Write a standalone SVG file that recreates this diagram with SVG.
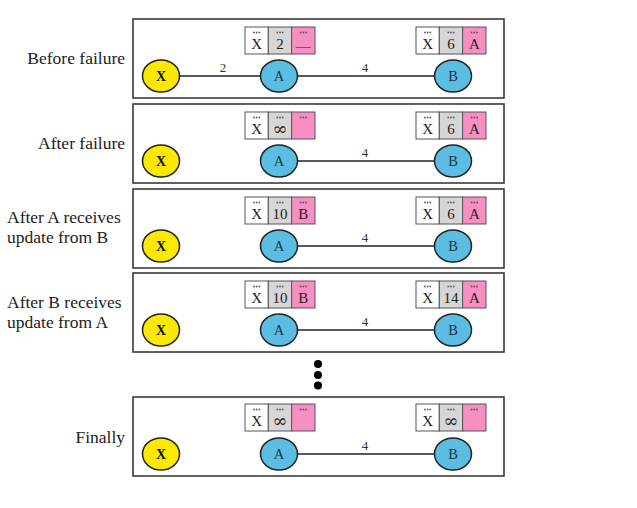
<svg xmlns="http://www.w3.org/2000/svg" xmlns:xlink="http://www.w3.org/1999/xlink" width="637" height="508" viewBox="0 0 637 508">
<style>
.panel{fill:#fff;stroke:#3a3a3a;stroke-width:1.6}
.lbl{font-family:"Liberation Serif","Times New Roman",serif;font-size:17.5px;fill:#222}
.edge{stroke:#222;stroke-width:1.6;fill:none}
.elbl{font-family:"Liberation Serif","Times New Roman",serif;font-size:13px;fill:#333;text-anchor:middle}
.nx{fill:#fde800;stroke:#222;stroke-width:1.5}
.nab{fill:#5bbde2;stroke:#222;stroke-width:1.5}
.ntxt{font-family:"Liberation Serif","Times New Roman",serif;font-size:14.5px;fill:#1c2f45;text-anchor:middle}
.ntxtb{font-family:"Liberation Serif","Times New Roman",serif;font-size:14px;font-weight:bold;fill:#111;text-anchor:middle}
.c1{fill:#fff;stroke:#555;stroke-width:1}
.c2{fill:#d6d6d6;stroke:#555;stroke-width:1}
.c3{fill:#f78fc2;stroke:#555;stroke-width:1}
.ct{font-family:"Liberation Serif","Times New Roman",serif;font-size:15px;fill:#222;text-anchor:middle}
.inf{font-family:"DejaVu Serif",serif;font-size:18px;fill:#222;text-anchor:middle}
.dot{fill:#555}
</style>
<defs>
<g id="dots"><rect x="-3.5" y="-0.8" width="1.6" height="1.6" class="dot"/><rect x="-0.8" y="-0.8" width="1.6" height="1.6" class="dot"/><rect x="1.9" y="-0.8" width="1.6" height="1.6" class="dot"/></g>
<g id="tbl">
<rect x="0" y="0" width="23.3" height="27" class="c1"/>
<rect x="23.3" y="0" width="23.3" height="27" class="c2"/>
<rect x="46.6" y="0" width="23.4" height="27" class="c3"/>
<use xlink:href="#dots" x="11.6" y="5.5"/>
<use xlink:href="#dots" x="35" y="5.5"/>
<use xlink:href="#dots" x="58.3" y="5.5"/>
</g>
</defs>

<!-- Panel frames and labels -->
<g id="panels">
<rect class="panel" x="133" y="19" width="371" height="79"/>
<rect class="panel" x="133" y="104" width="371" height="79"/>
<rect class="panel" x="133" y="189" width="371" height="79"/>
<rect class="panel" x="133" y="273" width="371" height="79"/>
<rect class="panel" x="133" y="397" width="371" height="79"/>
</g>
<g id="labels">
<text class="lbl" x="125" y="64" text-anchor="end">Before failure</text>
<text class="lbl" x="125" y="149" text-anchor="end">After failure</text>
<text class="lbl" x="7" y="223">After A receives</text>
<text class="lbl" x="7" y="243">update from B</text>
<text class="lbl" x="7" y="308">After B receives</text>
<text class="lbl" x="7" y="328">update from A</text>
<text class="lbl" x="125" y="443" text-anchor="end">Finally</text>
</g>

<!-- Connectors -->
<g id="connectors">
<line class="edge" x1="179.5" y1="76" x2="260.5" y2="76"/>
<line class="edge" x1="297.5" y1="76" x2="434.5" y2="76"/>
<line class="edge" x1="297.5" y1="161" x2="434.5" y2="161"/>
<line class="edge" x1="297.5" y1="246" x2="434.5" y2="246"/>
<line class="edge" x1="297.5" y1="330" x2="434.5" y2="330"/>
<line class="edge" x1="297.5" y1="454" x2="434.5" y2="454"/>
<text class="elbl" x="223" y="72">2</text>
<text class="elbl" x="365" y="72">4</text>
<text class="elbl" x="365" y="157">4</text>
<text class="elbl" x="365" y="242">4</text>
<text class="elbl" x="365" y="326">4</text>
<text class="elbl" x="365" y="450">4</text>
</g>

<!-- Panel 1 -->
<g id="p1-x"><ellipse class="nx" cx="161" cy="76" rx="18.5" ry="16"/><text class="ntxtb" x="161" y="81">X</text></g>
<g id="p1-a"><ellipse class="nab" cx="279" cy="76" rx="18.5" ry="16"/><text class="ntxt" x="279" y="81">A</text></g>
<g id="p1-b"><ellipse class="nab" cx="453" cy="76" rx="18.5" ry="16"/><text class="ntxt" x="453" y="81">B</text></g>
<g id="p1-ta"><use xlink:href="#tbl" x="245" y="27"/><text class="ct" x="256.6" y="49">X</text><text class="ct" x="280" y="49">2</text><text class="ct" x="303.3" y="51">—</text></g>
<g id="p1-tb"><use xlink:href="#tbl" x="416" y="27"/><text class="ct" x="427.6" y="49">X</text><text class="ct" x="451" y="49">6</text><text class="ct" x="474.3" y="49">A</text></g>

<!-- Panel 2 -->
<g id="p2-x"><ellipse class="nx" cx="161" cy="161" rx="18.5" ry="16"/><text class="ntxtb" x="161" y="166">X</text></g>
<g id="p2-a"><ellipse class="nab" cx="279" cy="161" rx="18.5" ry="16"/><text class="ntxt" x="279" y="166">A</text></g>
<g id="p2-b"><ellipse class="nab" cx="453" cy="161" rx="18.5" ry="16"/><text class="ntxt" x="453" y="166">B</text></g>
<g id="p2-ta"><use xlink:href="#tbl" x="245" y="112"/><text class="ct" x="256.6" y="134">X</text><text class="inf" x="280" y="135">∞</text></g>
<g id="p2-tb"><use xlink:href="#tbl" x="416" y="112"/><text class="ct" x="427.6" y="134">X</text><text class="ct" x="451" y="134">6</text><text class="ct" x="474.3" y="134">A</text></g>

<!-- Panel 3 -->
<g id="p3-x"><ellipse class="nx" cx="161" cy="246" rx="18.5" ry="16"/><text class="ntxtb" x="161" y="251">X</text></g>
<g id="p3-a"><ellipse class="nab" cx="279" cy="246" rx="18.5" ry="16"/><text class="ntxt" x="279" y="251">A</text></g>
<g id="p3-b"><ellipse class="nab" cx="453" cy="246" rx="18.5" ry="16"/><text class="ntxt" x="453" y="251">B</text></g>
<g id="p3-ta"><use xlink:href="#tbl" x="245" y="197"/><text class="ct" x="256.6" y="219">X</text><text class="ct" x="280" y="219">10</text><text class="ct" x="303.3" y="219">B</text></g>
<g id="p3-tb"><use xlink:href="#tbl" x="416" y="197"/><text class="ct" x="427.6" y="219">X</text><text class="ct" x="451" y="219">6</text><text class="ct" x="474.3" y="219">A</text></g>

<!-- Panel 4 -->
<g id="p4-x"><ellipse class="nx" cx="161" cy="330" rx="18.5" ry="16"/><text class="ntxtb" x="161" y="335">X</text></g>
<g id="p4-a"><ellipse class="nab" cx="279" cy="330" rx="18.5" ry="16"/><text class="ntxt" x="279" y="335">A</text></g>
<g id="p4-b"><ellipse class="nab" cx="453" cy="330" rx="18.5" ry="16"/><text class="ntxt" x="453" y="335">B</text></g>
<g id="p4-ta"><use xlink:href="#tbl" x="245" y="281"/><text class="ct" x="256.6" y="303">X</text><text class="ct" x="280" y="303">10</text><text class="ct" x="303.3" y="303">B</text></g>
<g id="p4-tb"><use xlink:href="#tbl" x="416" y="281"/><text class="ct" x="427.6" y="303">X</text><text class="ct" x="451" y="303">14</text><text class="ct" x="474.3" y="303">A</text></g>

<!-- Ellipsis -->
<g id="more"><circle cx="318" cy="364" r="4" fill="#000"/><circle cx="318" cy="375" r="4" fill="#000"/><circle cx="318" cy="385.5" r="4" fill="#000"/></g>

<!-- Panel 5 -->
<g id="p5-x"><ellipse class="nx" cx="161" cy="454" rx="18.5" ry="16"/><text class="ntxtb" x="161" y="459">X</text></g>
<g id="p5-a"><ellipse class="nab" cx="279" cy="454" rx="18.5" ry="16"/><text class="ntxt" x="279" y="459">A</text></g>
<g id="p5-b"><ellipse class="nab" cx="453" cy="454" rx="18.5" ry="16"/><text class="ntxt" x="453" y="459">B</text></g>
<g id="p5-ta"><use xlink:href="#tbl" x="245" y="404"/><text class="ct" x="256.6" y="426">X</text><text class="inf" x="280" y="427">∞</text></g>
<g id="p5-tb"><use xlink:href="#tbl" x="416" y="404"/><text class="ct" x="427.6" y="426">X</text><text class="inf" x="451" y="427">∞</text></g>
</svg>
